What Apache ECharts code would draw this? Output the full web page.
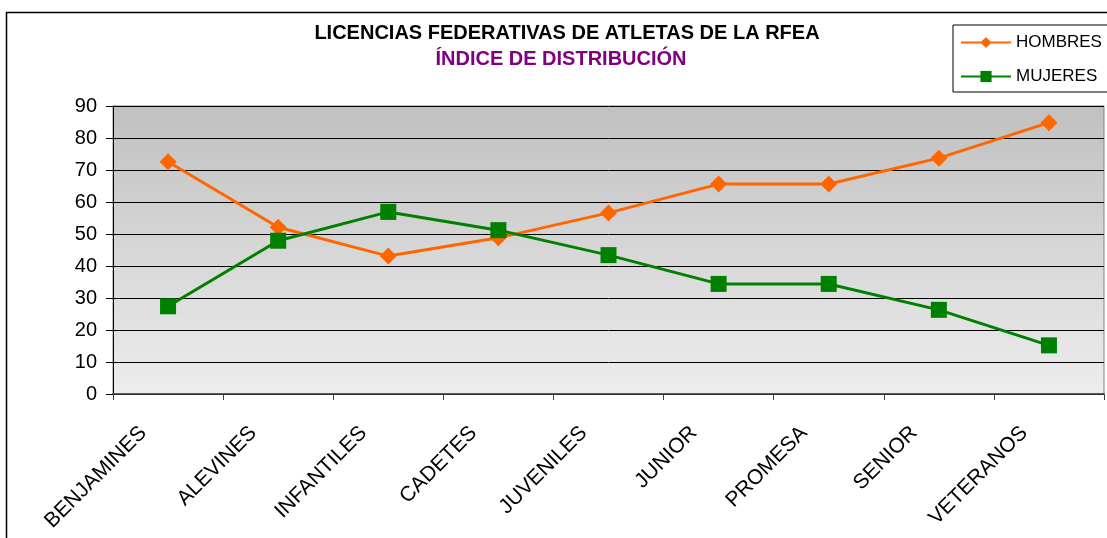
<!DOCTYPE html>
<html>
<head>
<meta charset="utf-8">
<script src="https://cdn.jsdelivr.net/npm/echarts@6/dist/echarts.min.js"></script>
<style>
html, body { margin: 0; padding: 0; background: #fff; }
#chart { width: 1107px; height: 538px; }
</style>
</head>
<body>
<div id="chart"></div>
<script>
// categorías y valores
const categorias = ["BENJAMINES", "ALEVINES", "INFANTILES", "CADETES", "JUVENILES", "JUNIOR", "PROMESA", "SENIOR", "VETERANOS"];
const hombres = [72.6, 52.1, 43.1, 48.8, 56.6, 65.6, 65.6, 73.7, 84.8];
const mujeres = [27.4, 47.9, 56.9, 51.2, 43.4, 34.4, 34.4, 26.3, 15.2];
const yTicks = { min: 0, max: 90, interval: 10 };

const font = "'Liberation Sans', Arial, sans-serif";

const chart = echarts.init(document.getElementById("chart"));
const option = {
  backgroundColor: "#ffffff",
  animation: false,
  graphic: [{
    type: "rect",
    shape: { x: 6.5, y: 12.5, width: 1120, height: 540 },
    style: { fill: "none", stroke: "#000", lineWidth: 1.5 },
    silent: true
  }],
  title: [{
    text: "LICENCIAS FEDERATIVAS DE ATLETAS DE LA RFEA",
    left: 562, top: 18, textAlign: "center",
    textStyle: { fontFamily: font, fontSize: 20, fontWeight: "bold", color: "#000" }
  }, {
    text: "ÍNDICE DE DISTRIBUCIÓN",
    left: 556, top: 44, textAlign: "center",
    textStyle: { fontFamily: font, fontSize: 20, fontWeight: "bold", color: "#800080" }
  }],
  legend: {
    orient: "vertical",
    left: 953, top: 25,
    padding: [9, 20, 7, 7],
    itemGap: 17,
    itemWidth: 50, itemHeight: 14,
    borderColor: "#000", borderWidth: 1,
    backgroundColor: "#fff",
    textStyle: { fontFamily: font, fontSize: 17, color: "#000" },
    data: ["HOMBRES", "MUJERES"]
  },
  grid: {
    left: 113, right: 3, top: 106, bottom: 144,
    show: true,
    borderColor: "#808080", borderWidth: 1,
    backgroundColor: new echarts.graphic.LinearGradient(0, 0, 0, 1, [
      { offset: 0, color: "#c0c0c0" },
      { offset: 1, color: "#ededed" }
    ])
  },
  xAxis: {
    type: "category",
    data: categorias,
    boundaryGap: true,
    axisLine: { show: true, lineStyle: { color: "#404040", width: 1.5 } },
    axisTick: { show: true, length: 6, lineStyle: { color: "#404040" } },
    axisLabel: {
      rotate: 45, margin: 11, interval: 0,
      padding: [0, 35, 0, 0],
      fontFamily: font, fontSize: 21, color: "#000"
    },
    splitLine: { show: false }
  },
  yAxis: {
    type: "value",
    min: yTicks.min, max: yTicks.max, interval: yTicks.interval,
    axisLine: { show: true, lineStyle: { color: "#000", width: 1 } },
    axisTick: { show: true, length: 7, lineStyle: { color: "#000" } },
    axisLabel: { margin: 16, fontFamily: font, fontSize: 20, color: "#000" },
    splitLine: { show: true, lineStyle: { color: "#000", width: 1 } }
  },
  series: [{
    name: "HOMBRES",
    type: "line",
    data: hombres,
    symbol: "diamond",
    symbolSize: 17,
    color: "#ff6600",
    lineStyle: { width: 3, color: "#ff6600" },
    itemStyle: { color: "#ff6600" }
  }, {
    name: "MUJERES",
    type: "line",
    data: mujeres,
    symbol: "rect",
    symbolSize: 16,
    color: "#008000",
    lineStyle: { width: 3, color: "#008000" },
    itemStyle: { color: "#008000" }
  }]
};
chart.setOption(option);
</script>
</body>
</html>
